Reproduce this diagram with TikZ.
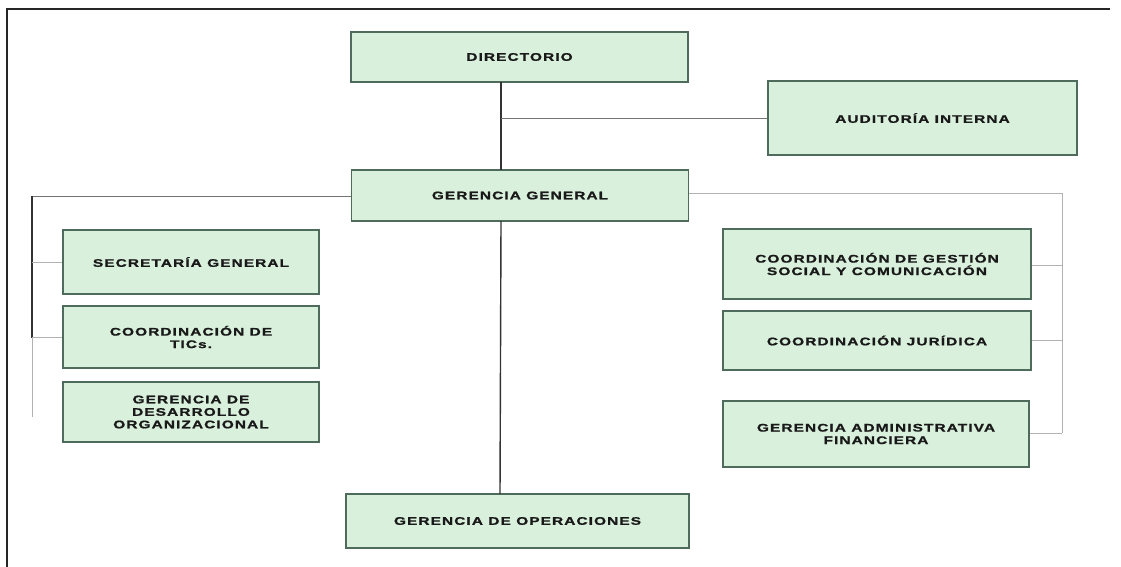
\documentclass[tikz,border=0pt]{standalone}
\usepackage{fontspec}
\setmainfont{Liberation Sans}
\newfontfamily\boxfont[LetterSpace=10,FakeStretch=1.4,FakeBold=1.2]{Liberation Sans Bold}
\begin{document}
\begin{tikzpicture}[x=1pt,y=-1pt,
  org/.style={draw=boxedge,line width=1.3pt,fill=boxfill,font=\boxfont\fontsize{11}{12.5}\selectfont,
    text=black!90,align=center,inner sep=0pt,anchor=center},
  mainline/.style={draw=black!80,line width=1.4pt},
  thinline/.style={draw=black!55,line width=0.9pt},
  lightline/.style={draw=black!30,line width=0.9pt}]
\definecolor{boxfill}{HTML}{D9F0DC}
\definecolor{boxedge}{HTML}{4F6B5C}
\useasboundingbox (0,0) rectangle (1121,567);
\fill[white] (0,0) rectangle (1121,567);
% frame
\draw[black!85,line width=1.2pt] (7,567) -- (7,9) -- (1110,9);
% nodes
\node[org,minimum width=337pt,minimum height=50pt] (dir) at (519.5,57) {DIRECTORIO};
\node[org,minimum width=309pt,minimum height=74pt] (aud) at (922.5,118) {AUDITORÍA INTERNA};
\node[org,minimum width=337pt,minimum height=51pt] (gg) at (520,195.5) {GERENCIA GENERAL};
\node[org,minimum width=256pt,minimum height=64pt] (sec) at (191,262) {SECRETARÍA GENERAL};
\node[org,minimum width=256pt,minimum height=62pt] (tic) at (191,337) {COORDINACIÓN DE\\TICs.};
\node[org,minimum width=256pt,minimum height=60pt] (gdo) at (191,412) {GERENCIA DE\\DESARROLLO\\ORGANIZACIONAL};
\node[org,minimum width=343pt,minimum height=54pt] (gop) at (517.5,521) {GERENCIA DE OPERACIONES};
\node[org,minimum width=308pt,minimum height=70pt] (cgs) at (877,264) {COORDINACIÓN DE GESTIÓN\\SOCIAL Y COMUNICACIÓN};
\node[org,minimum width=308pt,minimum height=59pt] (cj) at (877,340.5) {COORDINACIÓN JURÍDICA};
\node[org,minimum width=306pt,minimum height=66pt] (gaf) at (876,434) {GERENCIA ADMINISTRATIVA\\FINANCIERA};
% helper coordinates
\coordinate (m1) at (501,82);
\coordinate (m2) at (501,170);
\coordinate (m3) at (501,221);
\coordinate (m4) at (500,494);
\coordinate (ma) at (501,118);
\coordinate (l0) at (32,196);
\coordinate (l1) at (32,262);
\coordinate (l2) at (32,337);
\coordinate (l3) at (32,417);
\coordinate (r0) at (1062,193);
\coordinate (r1) at (1062,265);
\coordinate (r2) at (1062,340);
\coordinate (r3) at (1062,433);
% connectors
\draw[mainline] (m1) -- (m2);
\draw[mainline] (m3) -- (m4);
\draw[thinline] (ma) -- (aud.west);
\draw[thinline] (gg.west |- l0) -- (l0) -- (l1);
\draw[mainline,line width=1.2pt] (l0) -- (32,338);
\draw[lightline] (l2) -- (l3);
\draw[lightline] (l1) -- (sec.west |- l1);
\draw[lightline] (l2) -- (tic.west |- l2);
\draw[lightline] (gg.east |- r0) -- (r0) -- (r3);
\draw[lightline] (cgs.east |- r1) -- (r1);
\draw[lightline] (cj.east |- r2) -- (r2);
\draw[lightline] (gaf.east |- r3) -- (r3);
\end{tikzpicture}
\end{document}
